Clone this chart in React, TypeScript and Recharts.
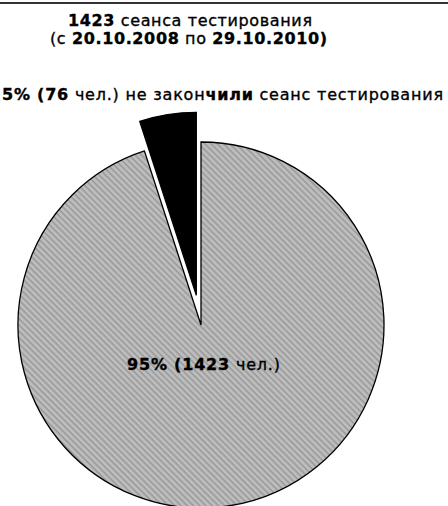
import { PieChart, Pie, Cell } from 'recharts';

const sessionsTotal = 1423;
const periodFrom = '20.10.2008';
const periodTo = '29.10.2010';

const slicePercents = [95, 5];
const slicePeople = [1423, 76];
const sliceFills = ['url(#hatch)', '#000000'];

const data = slicePercents.map((p, i) => ({ name: `s${i}`, value: p, people: slicePeople[i] }));

const CX = 201;
const CY = 325;
const R = 183;
const EXPLODE = 30;

// the small slice is pulled out along its middle angle
const smallMid = 90 + (slicePercents[1] / 2 / 100) * 360;
const offX = EXPLODE * Math.cos((smallMid * Math.PI) / 180);
const offY = -EXPLODE * Math.sin((smallMid * Math.PI) / 180);

const font = '"DejaVu Sans", Verdana, sans-serif';
const textStyle = { stroke: '#000', strokeWidth: 0.35 };

const innerLabel = (props: any) => {
  if (props.index !== 0) return null;
  const cx = props.cx ?? CX;
  const cy = props.cy ?? CY;
  return (
    <text x={cx - 74} y={cy + 45} textLength={153} lengthAdjust="spacing" fontFamily={font} fontSize={16} fill="#000" style={textStyle}>
      <tspan fontWeight="bold">{slicePercents[0]}% (</tspan>
      <tspan fontWeight="bold">{slicePeople[0]}</tspan>
      <tspan> чел.)</tspan>
    </text>
  );
};

export default function App() {
  return (
    <div style={{ position: 'absolute', left: 0, top: 0, width: 448, height: 506, background: '#fff', overflow: 'hidden' }}>
      <svg width={0} height={0} style={{ position: 'absolute' }}>
        <defs>
          <pattern id="hatch" width={4.4} height={4.4} patternUnits="userSpaceOnUse" patternTransform="rotate(45)">
            <rect x={0} y={0} width={4.4} height={4.4} fill="#bdbdbd" />
            <rect x={0} y={0} width={4.4} height={1.5} fill="#999999" />
          </pattern>
        </defs>
      </svg>
      <div style={{ position: 'absolute', left: 0, top: 2, width: 448, height: 2, background: '#333' }} />
      <PieChart width={448} height={506} margin={{ top: 0, right: 0, bottom: 0, left: 0 }}>
        <Pie
          data={data}
          dataKey="value"
          cx={CX}
          cy={CY}
          outerRadius={R}
          startAngle={90}
          endAngle={-270}
          stroke="#000"
          strokeWidth={1.3}
          label={innerLabel}
          labelLine={false}
          isAnimationActive={false}
        >
          {data.map((d, i) => (
            <Cell key={d.name} fill={i === 0 ? sliceFills[0] : 'none'} stroke={i === 0 ? '#000' : 'none'} />
          ))}
        </Pie>
        <Pie
          data={data}
          dataKey="value"
          cx={CX + offX}
          cy={CY + offY}
          outerRadius={R}
          startAngle={90}
          endAngle={-270}
          stroke="#000"
          strokeWidth={1.3}
          isAnimationActive={false}
        >
          {data.map((d, i) => (
            <Cell key={d.name} fill={i === 1 ? sliceFills[1] : 'none'} stroke={i === 1 ? '#000' : 'none'} />
          ))}
        </Pie>
      </PieChart>
      <svg width={448} height={506} style={{ position: 'absolute', left: 0, top: 0, pointerEvents: 'none' }}>
        <text x={68} y={26} textLength={244} lengthAdjust="spacing" fontFamily={font} fontSize={16} fill="#000" style={textStyle}>
          <tspan fontWeight="bold">{sessionsTotal}</tspan>
          <tspan> сеанса тестирования</tspan>
        </text>
        <text x={50} y={44} textLength={277} lengthAdjust="spacing" fontFamily={font} fontSize={16} fill="#000" style={textStyle}>
          <tspan>(с </tspan>
          <tspan fontWeight="bold">{periodFrom}</tspan>
          <tspan> по </tspan>
          <tspan fontWeight="bold">{periodTo})</tspan>
        </text>
        <text x={2} y={100} textLength={441} lengthAdjust="spacing" fontFamily={font} fontSize={16} fill="#000" style={textStyle}>
          <tspan fontWeight="bold">{slicePercents[1]}% (</tspan>
          <tspan fontWeight="bold">{slicePeople[1]}</tspan>
          <tspan> чел.) не закон</tspan>
          <tspan fontWeight="bold">чили</tspan>
          <tspan> сеанс тестирования</tspan>
        </text>
      </svg>
    </div>
  );
}
